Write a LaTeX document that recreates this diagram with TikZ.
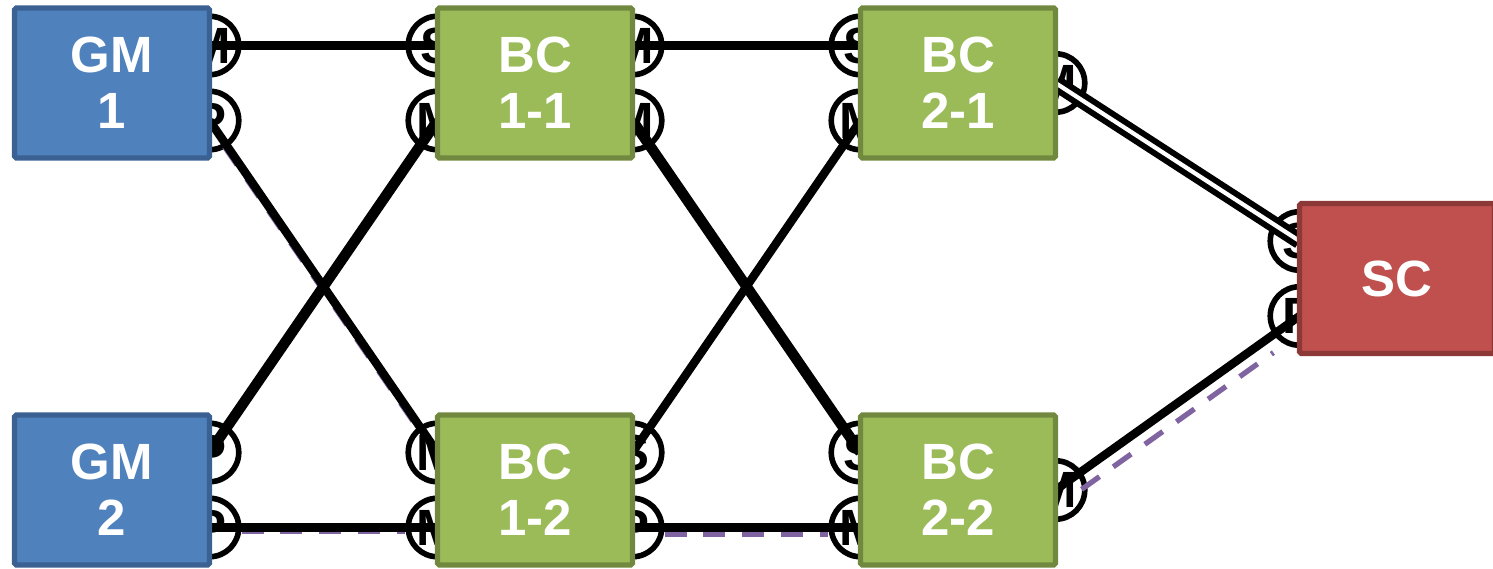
\documentclass[tikz,border=0pt]{standalone}
\usepackage{fontspec}
\setmainfont{Liberation Sans}
\usepackage{tikz}
\usetikzlibrary{positioning,backgrounds}

\definecolor{gmFill}{HTML}{4F81BD}
\definecolor{gmLine}{HTML}{3A6192}
\definecolor{bcFill}{HTML}{9BBB59}
\definecolor{bcLine}{HTML}{71893F}
\definecolor{scFill}{HTML}{C0504D}
\definecolor{scLine}{HTML}{8C3836}
\definecolor{pathPurple}{HTML}{8064A2}

\begin{document}
\begin{tikzpicture}[every text node part/.style={align=center}]
\tikzset{myFont/.style={font=\fontsize{29}{32}\selectfont\bfseries}}
\tikzset{myBox/.style={draw,rounded corners=1pt,line width=3pt,minimum width=3.9cm,minimum height=3cm,inner sep=0pt,outer sep=0pt,text=white,myFont}}
\tikzset{gmBox/.style={myBox,fill=gmFill,draw=gmLine}}
\tikzset{bcBox/.style={myBox,fill=bcFill,draw=bcLine}}
\tikzset{scBox/.style={myBox,fill=scFill,draw=scLine}}
\tikzset{myPort/.style={draw,circle,line width=3.2pt,minimum size=1.17cm,inner sep=0pt,myFont}}
\tikzset{myLink/.style={line width=4.8pt}}
\tikzset{myThick/.style={line width=6pt}}
\tikzset{mySync/.style={line width=3.4pt,double=white,double distance=2.4pt}}
\tikzset{myPath/.style={draw=pathPurple,line width=3pt,dash pattern=on 12.5pt off 9.6pt}}

\useasboundingbox (0,0) rectangle (29.86,11.38);

% clocks
\node[gmBox] (GM1) at (2.24,9.72) {GM\\1};
\node[gmBox,below=5.14cm of GM1] (GM2) {GM\\2};
\node[bcBox,right=4.56cm of GM1] (BC11) {BC\\1-1};
\node[bcBox,right=4.56cm of GM2] (BC12) {BC\\1-2};
\node[bcBox,right=4.56cm of BC11] (BC21) {BC\\2-1};
\node[bcBox,right=4.56cm of BC12] (BC22) {BC\\2-2};
\node[scBox] (SC) at (27.94,5.81) {SC};

\begin{pgfonlayer}{background}
% ports, half hidden behind the boxes
\node[myPort] (GM1a) at ([yshift=-0.75cm]GM1.north east) {M};
\node[myPort] (GM1b) at ([yshift=0.75cm]GM1.south east) {P};
\node[myPort] (GM2a) at ([yshift=-0.75cm]GM2.north east) {P};
\node[myPort] (GM2b) at ([yshift=0.75cm]GM2.south east) {P};

\node[myPort] (BC11a) at ([yshift=-0.75cm]BC11.north west) {S};
\node[myPort] (BC11b) at ([yshift=0.75cm]BC11.south west) {M};
\node[myPort] (BC11c) at ([yshift=-0.75cm]BC11.north east) {M};
\node[myPort] (BC11d) at ([yshift=0.75cm]BC11.south east) {M};

\node[myPort] (BC12a) at ([yshift=-0.75cm]BC12.north west) {M};
\node[myPort] (BC12b) at ([yshift=0.75cm]BC12.south west) {M};
\node[myPort] (BC12c) at ([yshift=-0.75cm]BC12.north east) {S};
\node[myPort] (BC12d) at ([yshift=0.75cm]BC12.south east) {P};

\node[myPort] (BC21a) at ([yshift=-0.75cm]BC21.north west) {S};
\node[myPort] (BC21b) at ([yshift=0.75cm]BC21.south west) {M};
\node[myPort] (BC21c) at (BC21.east) {M};

\node[myPort] (BC22a) at ([yshift=-0.75cm]BC22.north west) {S};
\node[myPort] (BC22b) at ([yshift=0.75cm]BC22.south west) {M};
\node[myPort] (BC22c) at (BC22.east) {M};

\node[myPort] (SCa) at ([yshift=-0.75cm]SC.north west) {S};
\node[myPort] (SCb) at ([yshift=0.75cm]SC.south west) {P};

% dashed path under the links
\draw[myPath,transform canvas={xshift=-0.06cm}] (GM1b) -- (BC12a);
\draw[myPath,transform canvas={yshift=-0.08cm}] (GM2b) -- (BC12b);
\draw[myPath,transform canvas={yshift=-0.14cm}] (BC12d) -- (BC22b);
\draw[myPath,transform canvas={yshift=-0.36cm}] (BC22c) -- (SCb);

% links
\draw[myLink] (GM1a.center) -- (BC11a.center);
\draw[myLink] (BC11c.center) -- (BC21a.center);
\draw[myLink] (GM1b.center) -- (BC12a.center);
\draw[myThick] (GM2a.center) -- (BC11b.center);
\draw[myThick] (BC11d.center) -- (BC22a.center);
\draw[myLink] (BC12c.center) -- (BC21b.center);
\draw[myLink] (GM2b.center) -- (BC12b.center);
\draw[myLink] (BC12d.center) -- (BC22b.center);
\draw[mySync] (BC21c.center) -- (SCa.center);
\draw[myLink] (BC22c.center) -- (SCb.center);
\end{pgfonlayer}
\end{tikzpicture}
\end{document}
